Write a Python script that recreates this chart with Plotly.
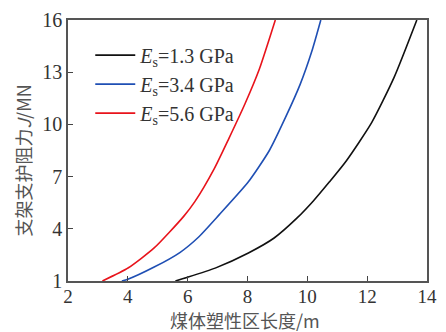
import plotly.graph_objects as go

# Data
black_x = [5.59, 5.97, 6.92, 8.03, 8.89, 9.65, 10.2, 10.74, 11.3, 12.15, 12.9, 13.66]
black_y = [1.0, 1.2, 1.74, 2.61, 3.47, 4.61, 5.6, 6.7, 7.9, 10.1, 12.7, 16.0]
blue_x = [3.8, 4.0, 4.88, 5.75, 6.35, 7.05, 8.03, 8.73, 9.27, 9.76, 10.15, 10.45]
blue_y = [1.0, 1.1, 1.8, 2.65, 3.5, 4.8, 6.7, 8.5, 10.4, 12.3, 14.2, 16.0]
red_x = [3.15, 4.02, 4.88, 5.86, 6.24, 6.89, 7.38, 7.92, 8.40, 8.93]
red_y = [1.0, 1.76, 2.9, 4.7, 5.56, 7.46, 9.2, 11.2, 13.2, 16.0]

names = ["<i>E</i><sub>s</sub>=1.3 GPa", "<i>E</i><sub>s</sub>=3.4 GPa", "<i>E</i><sub>s</sub>=5.6 GPa"]
colors = ["#111111", "#1f4fb4", "#e8131b"]
x_ticks = [2, 4, 6, 8, 10, 12, 14]
y_ticks = [1, 4, 7, 10, 13, 16]
x_title = "煤体塑性区长度/m"
y_title = "支架支护阻力<i>J</i>/MN"

fig = go.Figure()
for xs, ys, nm, c in [(black_x, black_y, names[0], colors[0]),
                      (blue_x, blue_y, names[1], colors[1]),
                      (red_x, red_y, names[2], colors[2])]:
    fig.add_trace(go.Scatter(x=xs, y=ys, mode="lines", name=nm,
                             line=dict(color=c, width=1.6, shape="spline", smoothing=0.6)))

axis_common = dict(showline=True, linecolor="#555555", linewidth=1.5, mirror=True,
                   ticks="inside", ticklen=5, tickcolor="#444444", showgrid=False, zeroline=False)

fig.update_layout(
    width=446, height=332,
    margin=dict(l=68, r=9, t=17, b=51),
    paper_bgcolor="white", plot_bgcolor="white",
    showlegend=True,
    legend=dict(x=0.062, y=0.94, xanchor="left", yanchor="top",
                font=dict(family="Liberation Serif", size=20, color="#333333"),
                bgcolor="rgba(0,0,0,0)", tracegroupgap=0, itemwidth=40),
    xaxis=dict(range=[2, 14], tickvals=x_ticks, ticklabelstandoff=-3,
               tickfont=dict(family="Liberation Serif", size=19, color="#333333"),
               **axis_common),
    yaxis=dict(range=[1, 16], tickvals=y_ticks,
               tickfont=dict(family="Liberation Serif", size=20, color="#333333"),
               **axis_common),
    annotations=[
        dict(text=x_title, xref="paper", yref="paper", x=0.493, y=-0.15,
             xanchor="center", yanchor="middle", showarrow=False,
             font=dict(family="Noto Sans CJK SC", size=18, color="#555555")),
        dict(text=y_title, xref="paper", yref="paper", x=-0.125, y=0.462,
             xanchor="center", yanchor="middle", showarrow=False, textangle=-90,
             font=dict(family="Noto Sans CJK SC", size=18, color="#555555")),
    ],
)

fig.write_html("out.html")
